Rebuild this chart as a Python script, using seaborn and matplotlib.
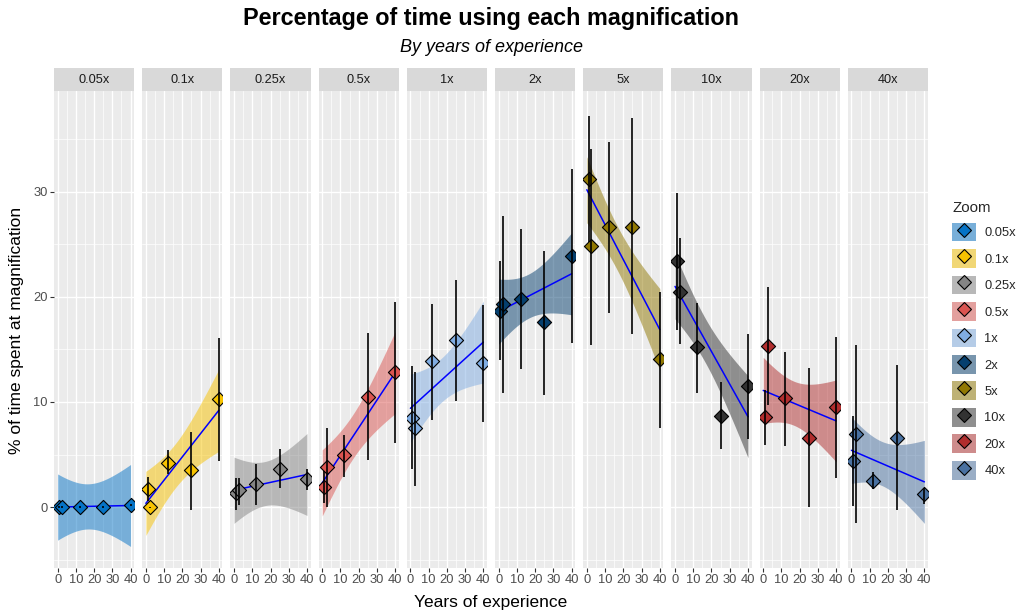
import numpy as np
import matplotlib
matplotlib.use("Agg")
import matplotlib.pyplot as plt
import seaborn as sns
import pandas as pd
from matplotlib.patches import Patch
from matplotlib.lines import Line2D

# ---------------- data ----------------
zooms = ["0.05x", "0.1x", "0.25x", "0.5x", "1x", "2x", "5x", "10x", "20x", "40x"]
experience = [1, 2.5, 12, 25, 40]

pct_mean = [
    [0.0, 0.0, 0.0, 0.0, 0.2],
    [1.75, 0.0, 4.2, 3.5, 10.3],
    [1.3, 1.6, 2.2, 3.6, 2.7],
    [1.9, 3.8, 5.0, 10.5, 12.9],
    [8.5, 7.5, 13.9, 15.9, 13.7],
    [18.7, 19.3, 19.8, 17.6, 23.9],
    [31.2, 24.8, 26.7, 26.7, 14.1],
    [23.4, 20.5, 15.2, 8.7, 11.5],
    [8.6, 15.3, 10.4, 6.6, 9.5],
    [4.4, 7.0, 2.5, 6.6, 1.2],
]
pct_low = [
    [-0.1, -0.1, -0.1, -0.1, 0.1],
    [0.55, -0.05, 3.1, -0.3, 4.4],
    [-0.3, 0.2, 0.2, 1.8, 1.6],
    [0.4, 0.0, 2.9, 4.5, 6.1],
    [3.6, 2.0, 8.3, 10.1, 8.1],
    [14.0, 10.9, 13.1, 10.7, 15.6],
    [25.2, 15.4, 18.5, 16.5, 7.5],
    [16.9, 15.5, 10.9, 5.5, 6.5],
    [5.9, 9.7, 5.8, 0.0, 2.8],
    [0.1, -1.5, 1.7, -0.3, 0.3],
]
pct_high = [
    [0.1, 0.1, 0.1, 0.1, 0.3],
    [2.9, 0.05, 5.4, 7.1, 16.1],
    [2.8, 2.8, 4.1, 5.5, 3.6],
    [3.4, 7.5, 6.9, 16.6, 19.5],
    [13.4, 12.9, 19.3, 21.6, 19.2],
    [23.4, 27.7, 26.5, 24.4, 32.2],
    [37.2, 34.1, 34.7, 37.0, 20.5],
    [29.9, 25.6, 19.4, 11.9, 16.5],
    [11.1, 20.9, 14.8, 13.2, 16.2],
    [8.7, 15.4, 3.3, 13.5, 1.85],
]

# linear fit (value at 0 and at 40 years) and confidence band half-widths
fit_start = [0.0, 0.35, 1.6, 2.3, 9.4, 18.6, 30.2, 21.0, 11.1, 5.4]
fit_end = [0.15, 9.2, 3.1, 12.8, 15.7, 22.2, 16.9, 8.6, 8.2, 2.4]
band_x = [0, 16, 40]
band_hw_start = [3.15, 3.05, 3.15, 3.15, 3.25, 3.1, 3.15, 3.1, 3.15, 3.15]
band_hw_mid = [2.15, 2.1, 2.1, 2.1, 2.1, 2.1, 2.1, 2.1, 2.1, 2.1]
band_hw_end = [3.9, 3.9, 3.9, 3.9, 3.9, 3.9, 3.9, 3.9, 3.9, 3.95]

colors = ["#0573C6", "#F7C300", "#858585", "#DB5450", "#80ADE3",
          "#053F6E", "#917802", "#323232", "#B12D2D", "#4971A1"]

# ---------------- style ----------------
sns.set_theme(style="darkgrid", rc={"axes.facecolor": "#EBEBEB"})
plt.rcParams["font.family"] = ["Liberation Sans", "DejaVu Sans"]

W, H = 1019, 614
fig = plt.figure(figsize=(W / 100, H / 100), dpi=100)

p_left0, p_w, p_gap = 54, 80.2, 8.0
p_top, p_bot, s_top = 91, 568, 68

bg = np.array([235, 235, 235]) / 255

for i, z in enumerate(zooms):
    left = (p_left0 + i * (p_w + p_gap)) / W
    ax = fig.add_axes([left, 1 - p_bot / H, p_w / W, (p_bot - p_top) / H])
    sax = fig.add_axes([left, 1 - p_top / H, p_w / W, (p_top - s_top) / H])
    sax.set_facecolor("#D9D9D9")
    sax.set_xticks([]); sax.set_yticks([])
    for sp in sax.spines.values():
        sp.set_visible(False)
    sax.grid(False)
    sax.text(0.5, 0.47, z, ha="center", va="center", fontsize=9.2,
             color="#1A1A1A", transform=sax.transAxes)

    c = colors[i]
    # band + fit
    xs = np.linspace(0, 40, 120)
    fit = fit_start[i] + (fit_end[i] - fit_start[i]) * xs / 40.0
    q = np.polyfit(band_x, np.array([band_hw_start[i], band_hw_mid[i], band_hw_end[i]]) ** 2, 2)
    hw = np.sqrt(np.clip(np.polyval(q, xs), 0, None))
    ax.fill_between(xs, fit - hw, fit + hw, color=c, alpha=0.5, lw=0, zorder=1)
    ax.plot(xs, fit, color="#0000FF", lw=1.1, zorder=2)

    df = pd.DataFrame({"exp": experience, "pct": pct_mean[i]})
    sns.scatterplot(data=df, x="exp", y="pct", ax=ax, marker="D", s=52,
                    color=c, edgecolor="black", linewidth=0.8, zorder=3,
                    legend=False)
    ax.vlines(experience, pct_low[i], pct_high[i], color="black",
              lw=1.4, alpha=0.85, zorder=4)

    ax.set_xlim(-2, 42)
    ax.set_ylim(-5.8, 39.6)
    ax.set_xticks([0, 10, 20, 30, 40])
    ax.set_xticks([5, 15, 25, 35], minor=True)
    ax.set_yticks([0, 10, 20, 30])
    ax.set_yticks([-5, 5, 15, 25, 35], minor=True)
    ax.grid(which="major", color="white", lw=1.0)
    ax.grid(which="minor", color="white", lw=0.5)
    ax.set_xlabel(""); ax.set_ylabel("")
    for sp in ax.spines.values():
        sp.set_visible(False)
    ax.tick_params(axis="both", which="major", length=3, width=0.8,
                   color="#333333", labelsize=9.3, labelcolor="#4D4D4D", pad=1.5,
                   bottom=True, left=(i == 0))
    ax.tick_params(axis="both", which="minor", length=0)
    if i != 0:
        ax.set_yticklabels([])

# titles and axis labels
cx = (p_left0 + (p_left0 + 10 * p_w + 9 * p_gap)) / 2 / W
fig.text(cx, 1 - 18 / H, "Percentage of time using each magnification",
         ha="center", va="center", fontsize=16.8, fontweight="bold", color="black")
fig.text(cx, 1 - 47 / H, "By years of experience", ha="center", va="center",
         fontsize=13, fontstyle="italic", color="black")
fig.text(cx, 1 - 603 / H, "Years of experience", ha="center", va="center",
         fontsize=12.5, color="black")
fig.text(17 / W, 1 - 330 / H, "% of time spent at magnification", ha="center",
         va="center", rotation=90, fontsize=12.5, color="black")

# legend
handles = []
for c in colors:
    rgb = np.array(matplotlib.colors.to_rgb(c))
    mix = 0.5 * rgb + 0.5 * bg
    handles.append((Patch(facecolor=mix, edgecolor="none"),
                    Line2D([], [], marker="D", ls="", markersize=7,
                           markerfacecolor=c, markeredgecolor="black",
                           markeredgewidth=0.8)))
leg = fig.legend(handles, zooms, loc="upper left",
                 bbox_to_anchor=(943 / W, 1 - 192 / H), frameon=False,
                 title="Zoom", fontsize=9.3, title_fontsize=10.8,
                 handlelength=1.85, handleheight=1.85, labelspacing=0.6,
                 handletextpad=0.65, borderpad=0.2)
leg._legend_box.align = "left"

fig.savefig("out.png", dpi=100)
